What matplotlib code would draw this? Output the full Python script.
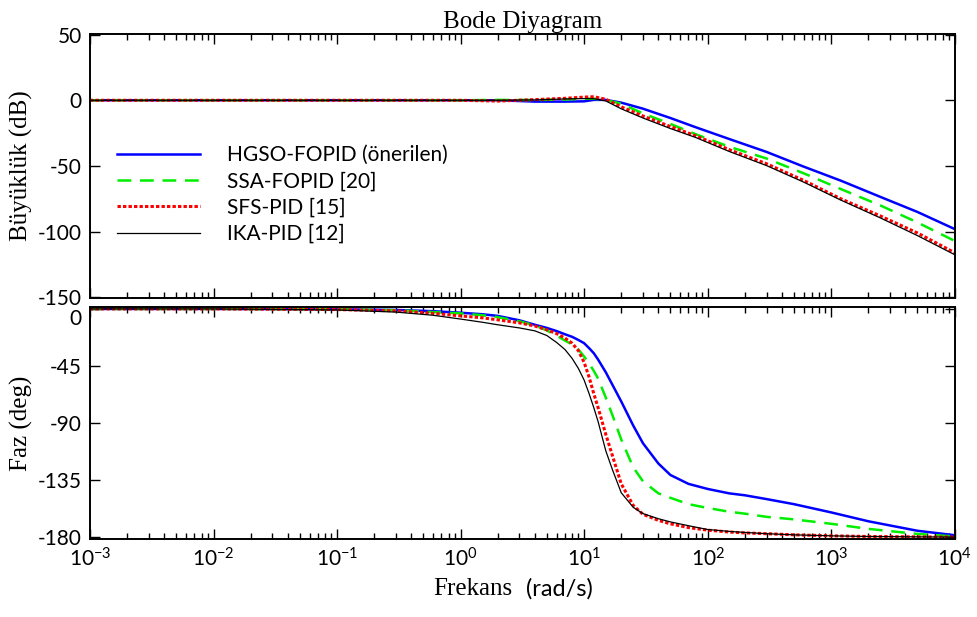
import numpy as np
import matplotlib.pyplot as plt
from matplotlib.ticker import LogLocator, NullFormatter

plt.rcParams['font.family'] = 'Lato'
plt.rcParams['axes.unicode_minus'] = False

# magnitude (dB)
mag_freq = [0.001, 0.1, 1, 2, 4, 7, 10, 12, 15, 20, 30, 50, 80, 150,
            300, 600, 1200, 2500, 5000, 10000]
mag_hgso = [0, 0, 0, 0, -1.0, -1.0, -0.8, 0.3, 0.3, -1.8, -6.4, -13.5, -20.5,
            -29.5, -39.3, -50.5, -61.2, -73.5, -85, -98]
mag_ssa = [0, 0, 0, 0.3, 0.2, 0.6, 1.2, 1.2, 0.2, -2.6, -10, -18, -25.8,
           -35.4, -44.3, -55.6, -67.6, -80, -93, -107]
mag_sfs = [0, 0, 0, -0.6, 0.5, 1.5, 2.4, 2.7, 0.8, -5, -12, -20, -27,
           -37.6, -48.3, -61, -75, -88, -101, -116]
mag_ika = [0, 0, 0, 0, 0.3, 1.0, 1.3, 1.2, -0.5, -6.5, -13.5, -21.5, -28.3,
           -39, -49.7, -62.3, -76, -89.5, -103, -117.5]

# phase (deg)
ph_freq = [0.001, 0.01, 0.1, 0.3, 0.6, 1, 1.5, 2, 3, 4, 5, 6, 7, 8, 9, 10,
           11, 12, 13, 15, 17, 20, 25, 30, 40, 50, 70, 100, 150, 200, 300,
           500, 1000, 2000, 5000, 10000]
ph_hgso = [0, 0, -0.3, -0.8, -1.8, -3, -4.2, -5.5, -9, -12.5, -15, -17.5,
           -20, -22, -24.5, -27, -31, -35, -40, -50, -60, -73, -92, -106,
           -122, -131, -138, -142, -145.5, -147, -150, -154, -160.5,
           -167.5, -175, -178.5]
ph_ssa = [0, 0, -0.3, -1, -2.5, -3.5, -5, -6.5, -9.8, -13, -17, -21, -25,
          -28, -32, -37.5, -43, -49, -55, -70, -84, -103, -125, -136,
          -145.5, -149, -154, -157, -160, -161.5, -164, -166, -169.5,
          -173.5, -177.5, -179.5]
ph_sfs = [0, 0, -0.5, -1.5, -3.5, -5.5, -7, -8.6, -11, -13.5, -16.5, -19.5,
          -23, -27, -33, -42, -54, -67, -78, -99, -116, -138, -155, -162,
          -166.8, -169.5, -172.5, -174.5, -176, -176.7, -177.3, -178.2,
          -179, -179.5, -179.8, -180]
ph_ika = [0, 0, -0.8, -2.5, -5, -8, -10.5, -12.5, -15, -17.3, -21, -26.5,
          -32, -39, -47, -56, -67, -78, -89, -112, -127, -145, -156.5,
          -161.5, -165.5, -168, -171, -174, -175.5, -176.3, -177.3, -178.2,
          -179, -179.5, -179.8, -180]

decades = [1e-3, 1e-2, 1e-1, 1e0, 1e1, 1e2, 1e3, 1e4]

labels = ['HGSO-FOPID (önerilen)', 'SSA-FOPID [20]', 'SFS-PID [15]', 'IKA-PID [12]']

styles = [dict(color='#0000ff', lw=1.8),
          dict(color='#00ee00', lw=1.8, dashes=(5.5, 3.5)),
          dict(color='#ff0000', lw=2.2, dashes=(1.1, 0.7)),
          dict(color='black', lw=0.9)]

serif = 'Liberation Serif'

fig = plt.figure(figsize=(9.77, 6.17), dpi=100)
ax1 = fig.add_axes([0.0921, 0.517, 0.885, 0.428])
ax2 = fig.add_axes([0.0921, 0.1264, 0.885, 0.376])

for y, lab, st in zip([mag_hgso, mag_ssa, mag_sfs, mag_ika], labels, styles):
    ax1.semilogx(mag_freq, y, label=lab, **st)
for y, st in zip([ph_hgso, ph_ssa, ph_sfs, ph_ika], styles):
    ax2.semilogx(ph_freq, y, **st)

ax1.set_ylim(-150.5, 50.5)
ax1.set_yticks([50, 0, -50, -100, -150])
ax2.set_ylim(-181.5, 1.5)
ax2.set_yticks([0, -45, -90, -135, -180])

for ax in (ax1, ax2):
    ax.set_xlim(1e-3, 1e4)
    ax.set_xticks(decades)
    ax.xaxis.set_minor_locator(LogLocator(base=10, subs=np.arange(2, 10), numticks=20))
    ax.xaxis.set_minor_formatter(NullFormatter())
    ax.tick_params(which='both', direction='in', top=True, right=True,
                   labelsize=15, width=1.0)
    ax.tick_params(which='major', length=7, pad=6)
    ax.tick_params(which='minor', length=4)
    for s in ax.spines.values():
        s.set_linewidth(1.4)
    ax.yaxis.set_label_coords(-0.066, 0.5)

ax1.tick_params(labelbottom=False)
# the "0" of the phase axis sits just below its tick, as in the original
ax2.yaxis.get_major_ticks()[0].label1.set_va('top')

ax1.set_title('Bode Diyagram', family=serif, fontsize=18, pad=4)
ax1.set_ylabel('Büyüklük (dB)', family=serif, fontsize=18)
ax2.set_ylabel('Faz (deg)', family=serif, fontsize=18)

fig.text(0.524, 0.045, 'Frekans', family=serif, fontsize=18, ha='right', va='center')
fig.text(0.538, 0.045, '(rad/s)', fontsize=17, ha='left', va='center')

ax1.legend(loc='upper left', bbox_to_anchor=(0.009, 0.65), frameon=False,
           fontsize=15, handlelength=4.0, handletextpad=1.3, labelspacing=0.3)

fig.savefig('out.png', dpi=100)
